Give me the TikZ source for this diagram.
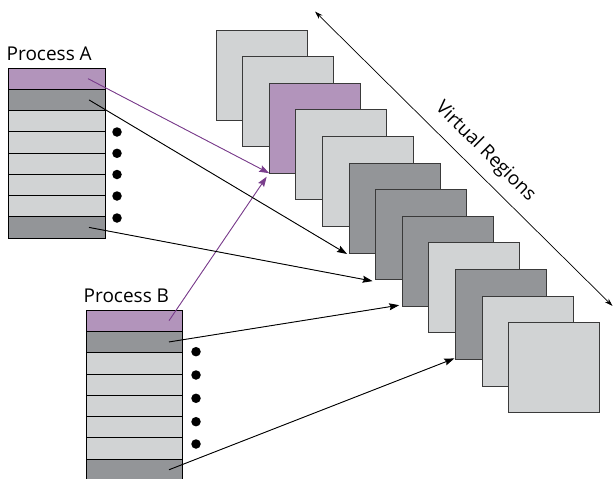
\documentclass[tikz,border=0pt]{standalone}
\usepackage{fontspec}
\setmainfont{Open Sans}
\usetikzlibrary{arrows.meta,calc}

\definecolor{lightfill}{HTML}{D1D3D4}
\definecolor{darkfill}{HTML}{939598}
\definecolor{purplefill}{HTML}{B294BB}
\definecolor{purpleline}{HTML}{7A3D8C}
\definecolor{edge}{HTML}{3A3A3A}

\tikzset{
  region/.style={draw=edge, line width=0.9pt, inner sep=0pt, outer sep=0pt,
    minimum width=91pt, minimum height=90pt, anchor=north west},
  cell/.style={draw=black, line width=0.8pt, inner sep=0pt, outer sep=0pt,
    anchor=north west, minimum height=21.3pt},
  lightcell/.style={cell, fill=lightfill},
  darkcell/.style={cell, fill=darkfill},
  purplecell/.style={cell, fill=purplefill},
  bullet/.style={circle, fill=black, inner sep=0pt, minimum size=9.5pt},
  label/.style={inner sep=0pt, font=\fontsize{19}{22}\selectfont},
  maplink/.style={line width=0.9pt, -{Stealth[length=10pt,width=7pt,inset=1.5pt]}},
  purplelink/.style={maplink, draw=purpleline, fill=purpleline},
  blacklink/.style={maplink, draw=black, fill=black},
}

\begin{document}
\begin{tikzpicture}[x=1pt,y=-1pt]
\useasboundingbox (0,0) rectangle (613,479);

% stacked virtual regions, each one drawn over the previous
\foreach \i/\c in {1/lightfill,2/lightfill,3/purplefill,4/lightfill,5/lightfill,
                   6/darkfill,7/darkfill,8/darkfill,9/lightfill,10/darkfill,
                   11/lightfill,12/lightfill}{
  \node[region, fill=\c] (s\i) at ({216+26.6*(\i-1)},{30+26.6*(\i-1)}) {};
}

% Process A page table
\node[label, anchor=base west] (labA) at (6.5,60.7) {Process A};
\foreach \i/\s in {1/purplecell,2/darkcell,3/lightcell,4/lightcell,5/lightcell,
                   6/lightcell,7/lightcell,8/darkcell}{
  \node[\s, minimum width=97pt] (a\i) at (8,{68+21.25*(\i-1)}) {};
}
\foreach \i/\y in {1/132,2/153.3,3/174.5,4/196,5/218}{
  \node[bullet] (da\i) at (117,\y) {};
}

% Process B page table
\node[label, anchor=base west] (labB) at (83.5,302.3) {Process B};
\foreach \i/\s in {1/purplecell,2/darkcell,3/lightcell,4/lightcell,5/lightcell,
                   6/lightcell,7/lightcell,8/darkcell}{
  \node[\s, minimum width=96pt] (b\i) at (86,{310+21.3*(\i-1)}) {};
}
\foreach \i/\y in {1/351.7,2/375,3/398.3,4/421.7,5/444}{
  \node[bullet] (db\i) at (196,\y) {};
}

% mappings from page entries to regions
\draw[purplelink] ([xshift=-17pt]a1.east) -- (s3.south west);
\draw[purplelink] ([xshift=-13pt]b1.east) -- ([shift={(-2.5pt,-3.5pt)}]s3.south west);
\draw[blacklink] ([xshift=-16pt]a2.east) -- ([shift={(-2pt,-1pt)}]s6.south west);
\draw[blacklink] ([xshift=-16pt]a8.east) -- ([shift={(-3pt,-1.5pt)}]s7.south west);
\draw[blacklink] ([xshift=-13pt]b2.east) -- ([shift={(-3pt,1pt)}]s8.south west);
\draw[blacklink] ([xshift=-13pt]b8.east) -- ([shift={(-1pt,1pt)}]s10.south west);

% extent of the virtual regions
\coordinate (vtop) at (315,11.5);
\coordinate (vbot) at (612.5,306);
\draw[line width=0.7pt, {Stealth[length=8pt,width=5pt]}-{Stealth[length=8pt,width=5pt]}] (vtop) -- (vbot)
  node[pos=0.525, sloped, anchor=center, yshift=20pt, label] (vr) {Virtual Regions};
\end{tikzpicture}
\end{document}
